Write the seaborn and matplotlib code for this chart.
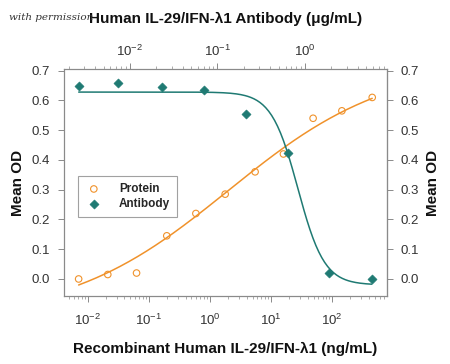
import numpy as np
import matplotlib.pyplot as plt
import seaborn as sns

# datos
protein_conc = [0.0071, 0.0213, 0.063, 0.197, 0.59, 1.78, 5.5, 16, 49, 145, 455]   # ng/mL
protein_od = [0.0, 0.015, 0.02, 0.145, 0.22, 0.285, 0.36, 0.42, 0.54, 0.565, 0.61]
antibody_conc = [0.0026, 0.0073, 0.023, 0.070, 0.21, 0.64, 1.88, 5.8]   # ug/mL
antibody_od = [0.648, 0.657, 0.644, 0.634, 0.553, 0.423, 0.02, 0.0]

# parametros del ajuste 4PL (bottom, top, ec50, hill)
protein_fit = (-0.137, 0.731, 2.0, 0.33)
antibody_fit = (-0.02, 0.628, 0.83, 2.87)

naranja = "#F0922B"
verde = "#1F7A73"
gris = "#8a8a8a"

def cuatro_pl(x, b, t, ec, h):
    return b + (t - b) * (x / ec) ** h / (1 + (x / ec) ** h)

sns.set_style("white")
plt.rcParams['font.family'] = ['Liberation Sans', 'DejaVu Sans']

fig = plt.figure(figsize=(4.5, 3.64), dpi=100)
ax = fig.add_axes([0.142, 0.187, 0.718, 0.623])
ax_top = ax.twiny()

# Proteina (eje inferior)
xs = np.logspace(np.log10(protein_conc[0]), np.log10(protein_conc[-1]), 200)
sns.lineplot(x=xs, y=cuatro_pl(xs, *protein_fit), ax=ax, color=naranja, lw=1.1)
sns.scatterplot(x=protein_conc, y=protein_od, ax=ax, marker='o', s=22,
                facecolor='none', edgecolor=naranja, linewidth=0.8, label="Protein", zorder=3)

# Anticuerpo (eje superior)
xa = np.logspace(np.log10(antibody_conc[0]), np.log10(antibody_conc[-1]), 200)
ya = antibody_fit[0] + (antibody_fit[1] - antibody_fit[0]) / (1 + (xa / antibody_fit[2]) ** antibody_fit[3])
sns.lineplot(x=xa, y=ya, ax=ax_top, color=verde, lw=1.1)
sns.scatterplot(x=antibody_conc, y=antibody_od, ax=ax_top, marker='D', s=22,
                color=verde, edgecolor=verde, label="Antibody", zorder=3)

ax.set_xscale('log')
ax.set_xlim(10 ** -2.39, 10 ** 2.90)
ax_top.set_xscale('log')
ax_top.set_xlim(10 ** -2.754, 10 ** 0.937)
ax.set_ylim(-0.057, 0.705)
yt = np.arange(0, 0.71, 0.1)
ax.set_yticks(yt)
ax.set_yticklabels([f"{v:.1f}" for v in yt])

ax.set_xticks([1e-2, 1e-1, 1e0, 1e1, 1e2])
ax_top.set_xticks([1e-2, 1e-1, 1e0])

# leyenda combinada
h1, l1 = ax.get_legend_handles_labels()
h2, l2 = ax_top.get_legend_handles_labels()
if ax_top.get_legend():
    ax_top.get_legend().remove()
leg = ax.legend(h1 + h2, l1 + l2, loc='upper left', bbox_to_anchor=(0.025, 0.555),
                frameon=True, fancybox=False, fontsize=8.5, handletextpad=1.4,
                borderpad=0.6, labelspacing=0.25, handlelength=1.5)
leg.get_frame().set_edgecolor(gris)
leg.get_frame().set_linewidth(0.8)
for t in leg.get_texts():
    t.set_fontweight('bold')

ax_r = ax.secondary_yaxis('right')
ax_r.set_yticks(yt)
ax_r.set_yticklabels([f"{v:.1f}" for v in yt])

for a in (ax, ax_top, ax_r):
    for s in a.spines.values():
        s.set_color(gris)
        s.set_linewidth(0.8)
    a.tick_params(which='both', direction='out', color=gris, labelsize=9.5, labelcolor='#333333')
    a.tick_params(which='major', length=4, width=0.7)
    a.tick_params(which='minor', length=2, width=0.5)
ax.tick_params(axis='y', left=True, pad=6)
ax.tick_params(axis='x', bottom=True, which='both', pad=8)
ax_top.tick_params(axis='x', top=True, which='both', pad=3)
ax_r.tick_params(axis='y', right=True, pad=6)

lab = dict(fontsize=11, fontweight='bold', color='#111111')
ax.set_ylabel("Mean OD", labelpad=5, **lab)
ax_r.set_ylabel("Mean OD", labelpad=5, **lab)
ax.set_xlabel("Recombinant Human IL-29/IFN-λ1 (ng/mL)", labelpad=10, **lab)
ax_top.set_xlabel("Human IL-29/IFN-λ1 Antibody (μg/mL)", labelpad=15, **lab)

fig.text(0.02, 0.953, "with permission", fontsize=7.5, style='italic',
         family='DejaVu Serif', color='#333333', va='center')

fig.savefig("out.png", dpi=100)
